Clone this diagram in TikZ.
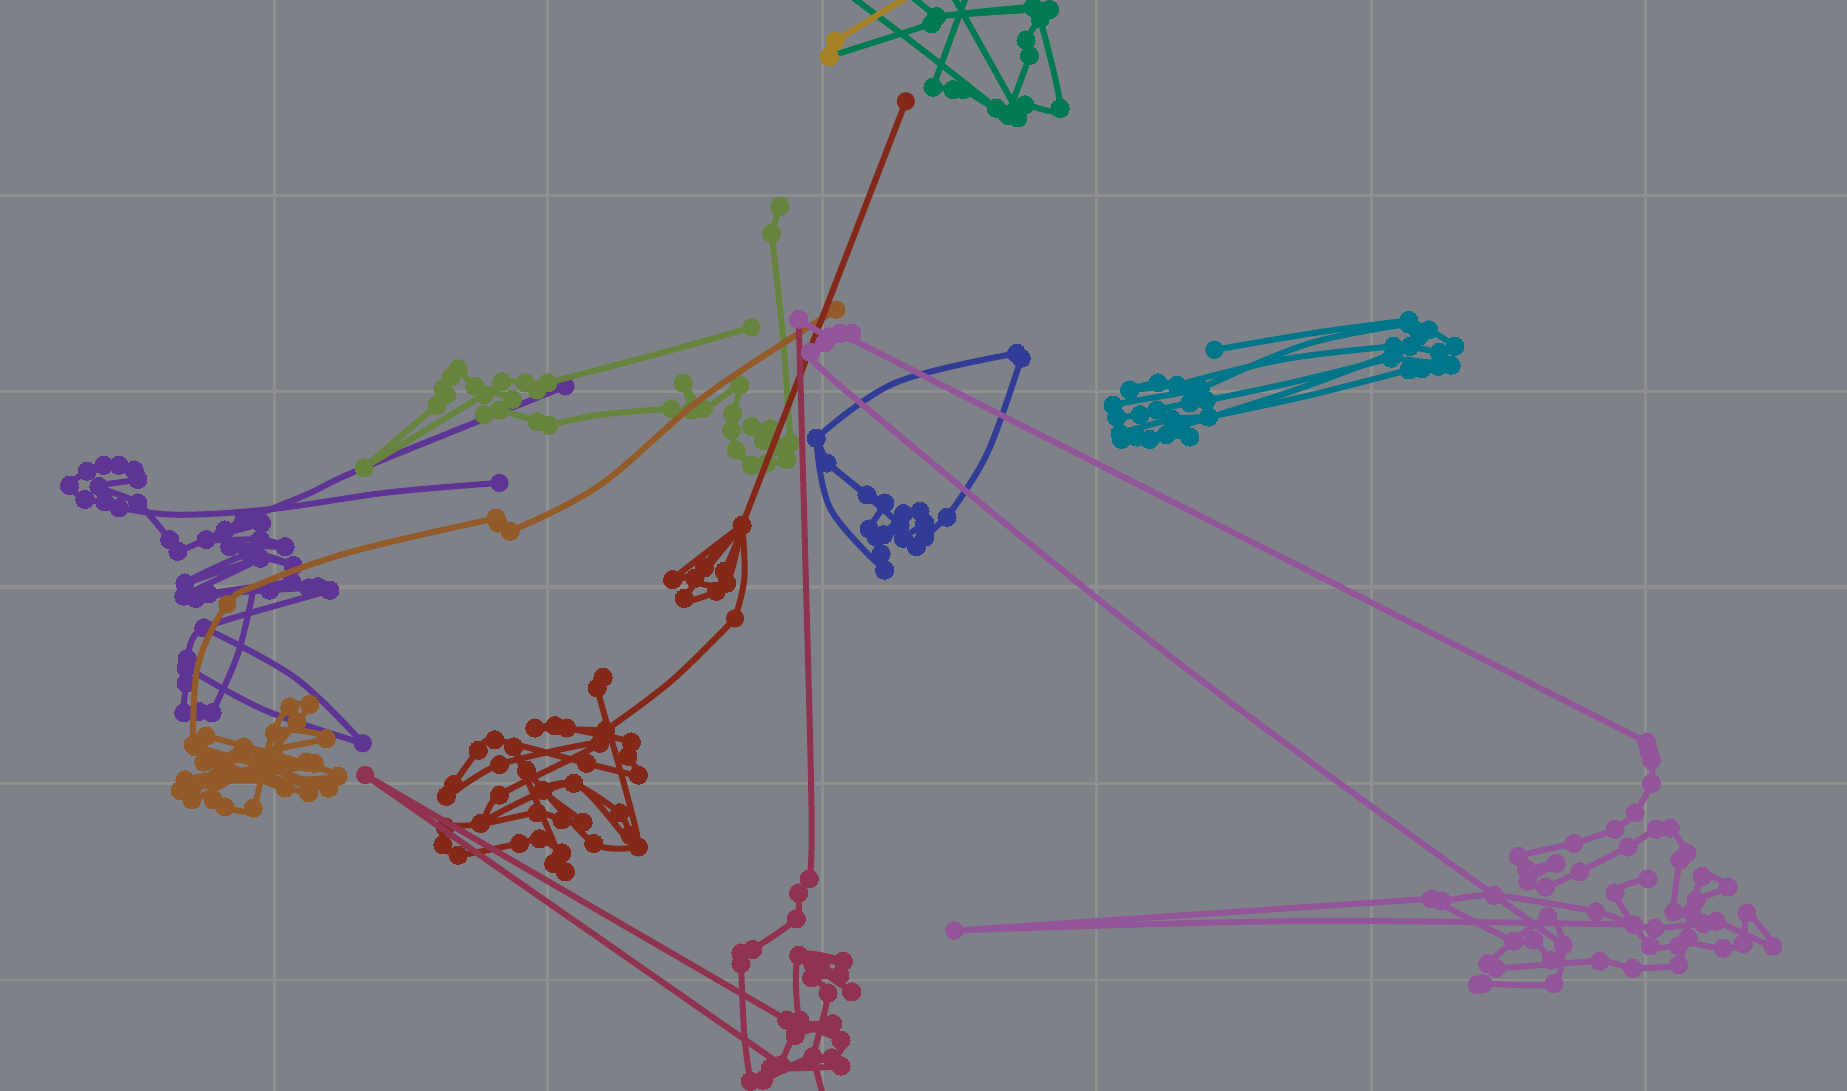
\documentclass[tikz,border=0pt]{standalone}
\usepackage{tikz}

\definecolor{bggray}{HTML}{7F8189}
\definecolor{gridgray}{HTML}{8F8F8F}
\definecolor{wpurple}{HTML}{5E3494}
\definecolor{wolive}{HTML}{66843E}
\definecolor{wbrown}{HTML}{935B2A}
\definecolor{wred}{HTML}{84291A}
\definecolor{wcrimson}{HTML}{8F3350}
\definecolor{wnavy}{HTML}{303C96}
\definecolor{wmagenta}{HTML}{92559A}
\definecolor{wteal}{HTML}{00768A}
\definecolor{wgreen}{HTML}{007A52}
\definecolor{wgold}{HTML}{A68128}

\newcommand\walk[2]{\draw[walk,color=#1] plot[smooth,tension=.4] coordinates {#2};}
\newcommand\link[2]{\draw[trail,color=#1] plot[smooth,tension=.6] coordinates {#2};}
\newcommand\spot[2]{\fill[color=#1] #2 circle (2.2pt);}

\begin{document}
\begin{tikzpicture}[x=0.1mm,y=-0.1mm,
    trail/.style={line width=1.45pt,line join=round,line cap=round},
    walk/.style={trail,mark=*,mark size=2.2pt,mark options={line width=0pt}},
    gridline/.style={gridgray,line width=0.7pt}]

  \useasboundingbox (0,0) rectangle (1568,926);
  \fill[bggray] (0,0) rectangle (1568,926);
  \clip (0,0) rectangle (1568,926);

  \foreach \gx in {233,465,698,931,1164,1397}
    \draw[gridline] (\gx,0) -- (\gx,926);
  \foreach \gy in {166,332,665,832}
    \draw[gridline] (0,\gy) -- (1568,\gy);
  \draw[gridline,line width=1pt] (0,498) -- (1568,498);

  % purple
  \link{wpurple}{(424,410) (330,418) (232,432) (151,437) (101,431)}
  \walk{wpurple}{(101,431) (89,426) (72,424) (59,412) (74,400) (88,395) (101,395) (114,399) (117,407) (84,413) (117,427) (144,458) (151,468) (191,450) (207,441) (222,444) (175,458) (221,458) (242,464) (195,464) (249,480) (212,470) (157,495) (221,474) (156,506) (166,508) (248,494) (177,504) (229,501) (262,499) (270,498) (280,501) (173,533) (159,559) (158,567) (158,580) (156,605) (169,604) (180,605)}
  \link{wpurple}{(173,533) (250,575) (308,631)}
  \link{wpurple}{(308,631) (225,603) (159,567)}
  \link{wpurple}{(180,605) (202,555) (215,501)}
  \link{wpurple}{(207,441) (260,420) (309,397) (480,328)}
  \spot{wpurple}{(424,410)}
  \spot{wpurple}{(308,631)}
  \spot{wpurple}{(480,328)}

  % olive
  \walk{wolive}{(662,175) (655,198)}
  \link{wolive}{(655,198) (665,290) (671,376)}
  \walk{wolive}{(671,376) (659,379) (648,374) (638,362) (654,364) (668,390) (651,393) (638,395) (625,382) (621,365) (622,351) (628,327) (597,347) (580,325) (587,348) (570,347)}
  \link{wolive}{(570,347) (510,352) (466,361)}
  \walk{wolive}{(466,361) (456,358) (424,348) (411,352) (435,339) (403,328) (389,313) (383,320) (376,330) (379,335) (371,344)}
  \link{wolive}{(371,344) (309,397)}
  \walk{wolive}{(309,397) (411,335) (426,324) (446,325) (456,331) (465,325)}
  \link{wolive}{(465,325) (560,300) (638,278)}
  \spot{wolive}{(638,278)}

  % brown
  \link{wbrown}{(710,263) (600,335) (509,412) (433,451)}
  \walk{wbrown}{(433,451) (423,444) (421,440)}
  \link{wbrown}{(421,440) (300,468) (220,496) (193,513) (168,565) (164,632)}
  \spot{wbrown}{(710,263)}
  \spot{wbrown}{(193,513)}
  \walk{wbrown}{(164,632) (175,625) (287,659) (157,662) (260,647) (153,671) (267,648) (173,647) (279,669) (166,634) (242,669) (233,622) (246,600) (263,598) (252,613) (221,647) (163,679) (207,634) (262,673) (192,654) (181,679) (191,685) (215,686) (233,622) (277,627) (173,647)}

  % red
  \link{wred}{(769,86) (630,446)}
  \spot{wred}{(769,86)}
  \walk{wred}{(630,446) (571,492) (598,482) (630,446) (581,508) (608,502) (615,485) (630,446) (590,491) (617,495) (630,446)}
  \link{wred}{(630,446) (632,490) (624,525)}
  \link{wred}{(624,525) (570,578) (514,620)}
  \spot{wred}{(624,525)}
  \walk{wred}{(514,620) (454,618) (471,616) (481,618) (536,630) (533,642) (542,658) (498,648) (420,628) (406,637) (385,666) (379,676) (424,649) (509,631) (424,675) (408,699) (378,702) (376,717) (389,726) (441,716) (458,712) (477,724) (470,733) (480,740) (436,634) (447,654) (504,716) (542,719) (535,709) (526,690) (487,665) (461,671) (495,698) (477,696) (456,690) (408,699) (487,665) (542,719) (507,584) (512,575)}

  % crimson
  \link{wcrimson}{(678,270) (683,450) (689,690) (687,746)}
  \walk{wcrimson}{(687,746) (678,758) (676,780) (639,806) (629,809) (629,818)}
  \link{wcrimson}{(629,818) (632,880) (637,918)}
  \walk{wcrimson}{(637,918) (648,917) (690,897) (714,905) (654,907) (706,898) (714,883) (668,866)}
  \link{wcrimson}{(668,866) (310,658)}
  \link{wcrimson}{(310,658) (663,904)}
  \spot{wcrimson}{(310,658)}
  \walk{wcrimson}{(663,904) (675,879) (707,869) (679,866) (678,811) (716,816) (690,818) (723,842) (697,823) (713,828) (689,830) (703,843) (690,897)}
  \link{wcrimson}{(690,897) (700,935)}

  % navy
  \link{wnavy}{(751,484) (705,432) (693,372)}
  \link{wnavy}{(693,372) (760,325) (863,300)}
  \walk{wnavy}{(702,393) (693,372)}
  \walk{wnavy}{(863,300) (867,304)}
  \link{wnavy}{(867,304) (838,385) (804,439)}
  \walk{wnavy}{(804,439) (785,456) (778,464) (767,457) (785,444) (781,434) (767,436) (750,454) (738,449) (751,427) (736,420) (702,393) (764,446) (744,456) (748,470) (751,484)}

  % magenta
  \walk{wmagenta}{(678,271) (704,286) (723,283) (713,283)}
  \link{wmagenta}{(713,283) (1398,630)}
  \walk{wmagenta}{(1398,630) (1400,638) (1402,645) (1402,665) (1388,690) (1371,704) (1336,716) (1289,727) (1296,738) (1321,733) (1297,748) (1312,753) (1341,740) (1382,719) (1406,704) (1418,703) (1432,724) (1426,730) (1421,774) (1436,774) (1440,764) (1467,753) (1445,744) (1433,796) (1463,805) (1480,801) (1483,775) (1505,803) (1457,782) (1446,784) (1405,788) (1387,785) (1355,774) (1268,760) (1224,765) (1215,763) (1285,799) (1302,798) (1317,815) (1327,802) (1314,778) (1263,818) (1270,822) (1358,816) (1386,822) (1425,819) (1425,803) (1401,803) (1371,758) (1399,746)}
  \walk{wmagenta}{(700,291) (688,299)}
  \link{wmagenta}{(688,299) (722,335) (1010,570) (1327,802)}
  \walk{wmagenta}{(1327,802) (1319,835) (1259,835) (1254,836)}
  \link{wmagenta}{(1215,763) (810,790)}
  \link{wmagenta}{(810,790) (1100,782) (1387,785)}
  \spot{wmagenta}{(810,790)}

  % teal
  \link{wteal}{(1031,297) (1120,282) (1196,272)}
  \spot{wteal}{(1031,297)}
  \walk{wteal}{(1196,272) (1213,280) (1235,294) (1222,299) (1197,294) (1183,294)}
  \link{wteal}{(1183,294) (1090,305) (999,327)}
  \walk{wteal}{(999,327) (959,331) (983,325) (1019,330) (945,344) (948,354) (968,352) (982,348) (1010,342) (1024,340)}
  \link{wteal}{(1024,340) (1100,324) (1181,304)}
  \walk{wteal}{(1181,304) (1232,310) (1221,311) (1207,313) (1196,314)}
  \link{wteal}{(1196,314) (1110,336) (1026,354)}
  \walk{wteal}{(1026,354) (995,356) (951,368) (952,373) (965,371) (976,373) (990,369) (1010,371) (1002,362)}
  \link{wteal}{(1002,362) (1100,331) (1183,300)}
  \walk{wteal}{(1183,300) (1205,285) (1196,275)}
  \link{wteal}{(1196,275) (1110,292) (1019,330)}

  % green
  \walk{wgreen}{(704,48) (791,20) (795,14) (880,8) (891,8) (883,16) (871,34) (874,47) (856,98) (864,100) (870,89) (900,92) (883,16) (877,6) (795,14)}
  \link{wgreen}{(795,14) (740,-30)}
  \walk{wgreen}{(870,89) (846,92) (818,76) (809,76) (792,74)}
  \link{wgreen}{(792,74) (830,-30)}
  \link{wgreen}{(800,-20) (863,93)}
  \link{wgreen}{(700,-20) (780,40) (846,92)}

  % gold
  \walk{wgold}{(704,48) (709,35)}
  \link{wgold}{(709,35) (790,-15)}

\end{tikzpicture}
\end{document}
